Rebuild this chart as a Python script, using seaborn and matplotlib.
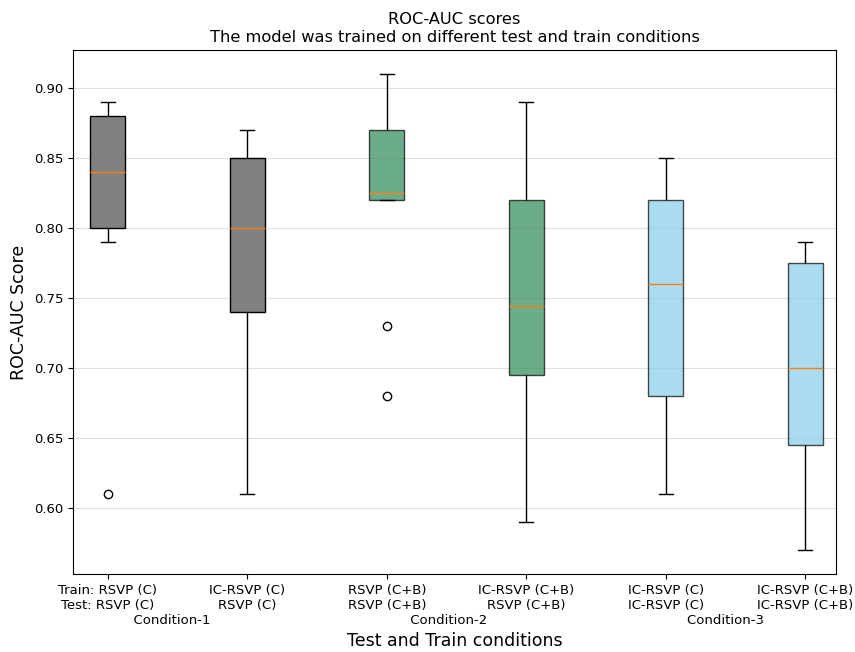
import pandas as pd
import matplotlib
matplotlib.use("Agg")
import matplotlib.pyplot as plt
import seaborn as sns

# ROC-AUC scores per train/test condition
conditions = ["c1_rsvp", "c1_ic", "c2_rsvp", "c2_ic", "c3_ic_c", "c3_ic_cb"]
scores_c1_rsvp = [0.61, 0.79, 0.80, 0.82, 0.84, 0.86, 0.88, 0.89, 0.89]
scores_c1_ic = [0.61, 0.70, 0.74, 0.77, 0.80, 0.83, 0.85, 0.86, 0.87]
scores_c2_rsvp = [0.68, 0.73, 0.82, 0.82, 0.825, 0.85, 0.87, 0.89, 0.91]
scores_c2_ic = [0.59, 0.65, 0.695, 0.72, 0.744, 0.79, 0.82, 0.86, 0.89]
scores_c3_ic_c = [0.61, 0.64, 0.68, 0.72, 0.76, 0.80, 0.82, 0.84, 0.85]
scores_c3_ic_cb = [0.57, 0.60, 0.645, 0.67, 0.70, 0.74, 0.775, 0.78, 0.79]

tick_labels = [
    "Train: RSVP (C)\nTest: RSVP (C)\n" + " " * 30 + "Condition-1",
    "IC-RSVP (C)\nRSVP (C)",
    "RSVP (C+B)\nRSVP (C+B)\n" + " " * 29 + "Condition-2",
    "IC-RSVP (C+B)\nRSVP (C+B)",
    "IC-RSVP (C)\nIC-RSVP (C)\n" + " " * 28 + "Condition-3",
    "IC-RSVP (C+B)\nIC-RSVP (C+B)",
]
box_colors = ["gray", "gray", "seagreen", "seagreen", "skyblue", "skyblue"]
box_alpha = [1.0, 1.0, 0.7, 0.7, 0.7, 0.7]

all_scores = [scores_c1_rsvp, scores_c1_ic, scores_c2_rsvp,
              scores_c2_ic, scores_c3_ic_c, scores_c3_ic_cb]
df = pd.DataFrame({
    "condition": [c for c, s in zip(conditions, all_scores) for _ in s],
    "score": [v for s in all_scores for v in s],
})

fig = plt.figure(figsize=(8.55, 6.52), dpi=100)
ax = fig.add_axes([0.0854, 0.1196, 0.8924, 0.8037])

sns.boxplot(
    data=df, x="condition", y="score", hue="condition", order=conditions,
    hue_order=conditions, palette=box_colors, saturation=1, width=0.25,
    linecolor="black", linewidth=1, legend=False, whis=1.5, ax=ax,
    capwidths=0.1,
    medianprops={"color": "#ff7f0e", "linewidth": 1},
    flierprops={"marker": "o", "markerfacecolor": "none",
                "markeredgecolor": "black", "markersize": 6},
)

# box fill / edge transparency per condition
for patch, col, a in zip(ax.patches, box_colors, box_alpha):
    patch.set_facecolor(matplotlib.colors.to_rgba(col, a))
    patch.set_edgecolor((0, 0, 0, a))

ax.set_xlim(-0.25, 5.22)
ax.set_xticks(range(len(conditions)))
ax.set_xticklabels(tick_labels, fontsize=9.5)
ax.tick_params(axis="y", labelsize=9.5)
ax.yaxis.grid(True, alpha=0.4)
ax.set_axisbelow(True)

ax.set_title("ROC-AUC scores\nThe model was trained on different test and train conditions",
             fontsize=11.7)
ax.set_xlabel("Test and Train conditions", fontsize=12.5)
ax.set_ylabel("ROC-AUC Score", fontsize=12.5)

fig.savefig("out.png", dpi=100)
